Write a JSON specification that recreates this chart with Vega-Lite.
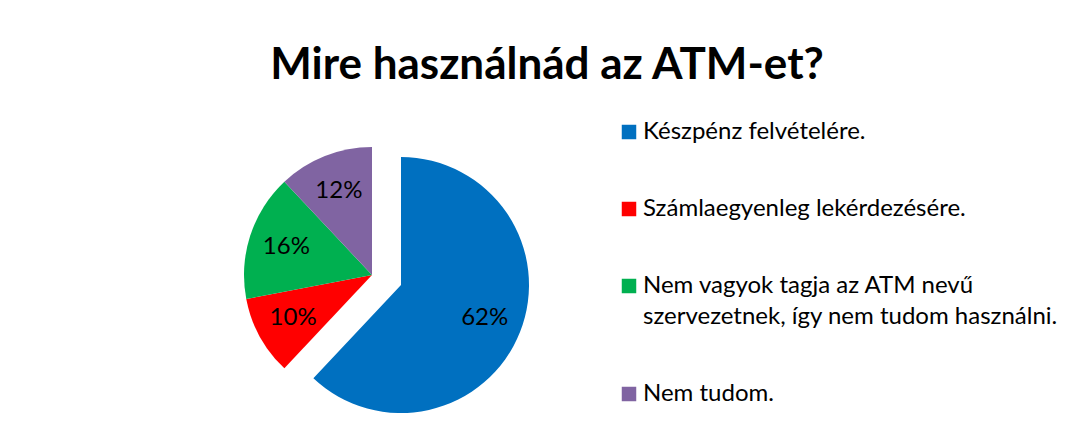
{
 "$schema": "https://vega.github.io/schema/vega-lite/v6.json",
 "width": 256,
 "height": 256,
 "autosize": "none",
 "padding": {"left": 244, "top": 147, "right": 583, "bottom": 42},
 "background": "white",
 "config": {"view": {"stroke": null}, "font": "Lato"},
 "title": {"text": "Mire használnád az ATM-et?", "font": "Lato", "fontSize": 44, "fontWeight": "bold", "color": "#000000", "anchor": "middle", "dx": 175, "offset": 32},
 "data": {"values": [
   {"category": "Készpénz felvételére.", "value": 0.62, "order": 1},
   {"category": "Számlaegyenleg lekérdezésére.", "value": 0.10, "order": 2},
   {"category": "Nem vagyok tagja az ATM nevű szervezetnek, így nem tudom használni.", "value": 0.16, "order": 3},
   {"category": "Nem tudom.", "value": 0.12, "order": 4}
 ]},
 "encoding": {
   "theta": {"field": "value", "type": "quantitative", "stack": true},
   "order": {"field": "order", "type": "quantitative"},
   "color": {
     "field": "category", "type": "nominal",
     "scale": {
       "domain": ["Készpénz felvételére.", "Számlaegyenleg lekérdezésére.", "Nem vagyok tagja az ATM nevű szervezetnek, így nem tudom használni.", "Nem tudom."],
       "range": ["#0070C0", "#FF0000", "#00B050", "#8064A2"]
     },
     "legend": {
       "orient": "none", "legendX": 373, "legendY": -27, "title": null,
       "symbolType": "square", "symbolSize": 210, "symbolStrokeWidth": 0, "symbolOpacity": 1,
       "labelFont": "Lato", "labelFontSize": 24, "labelColor": "#000000", "labelLimit": 700,
       "rowPadding": 53, "labelOffset": 2, "padding": 0,
       "labelExpr": "datum.label == 'Nem vagyok tagja az ATM nevű szervezetnek, így nem tudom használni.' ? ['Nem vagyok tagja az ATM nevű', 'szervezetnek, így nem tudom használni.'] : datum.label",
       "encode": {"labels": {"update": {"lineHeight": {"value": 31}}}}
     }
   }
 },
 "layer": [
   {"mark": {"type": "arc"}, "encoding": {"opacity": {"condition": {"test": "datum.order == 1", "value": 0}, "value": 1}}},
   {"mark": {"type": "arc", "xOffset": 29, "yOffset": 10}, "encoding": {"opacity": {"condition": {"test": "datum.order == 1", "value": 1}, "value": 0}}},
   {"mark": {"type": "text", "radius": 90, "fontSize": 24, "font": "Lato"},
    "encoding": {"text": {"field": "value", "type": "quantitative", "format": ".0%"}, "color": {"value": "#000000"}, "detail": {"field": "category"},
      "opacity": {"condition": {"test": "datum.order == 1", "value": 0}, "value": 1}}},
   {"mark": {"type": "text", "radius": 90, "fontSize": 24, "font": "Lato", "xOffset": 29, "yOffset": 10},
    "encoding": {"text": {"field": "value", "type": "quantitative", "format": ".0%"}, "color": {"value": "#000000"}, "detail": {"field": "category"},
      "opacity": {"condition": {"test": "datum.order == 1", "value": 1}, "value": 0}}}
 ]
}
